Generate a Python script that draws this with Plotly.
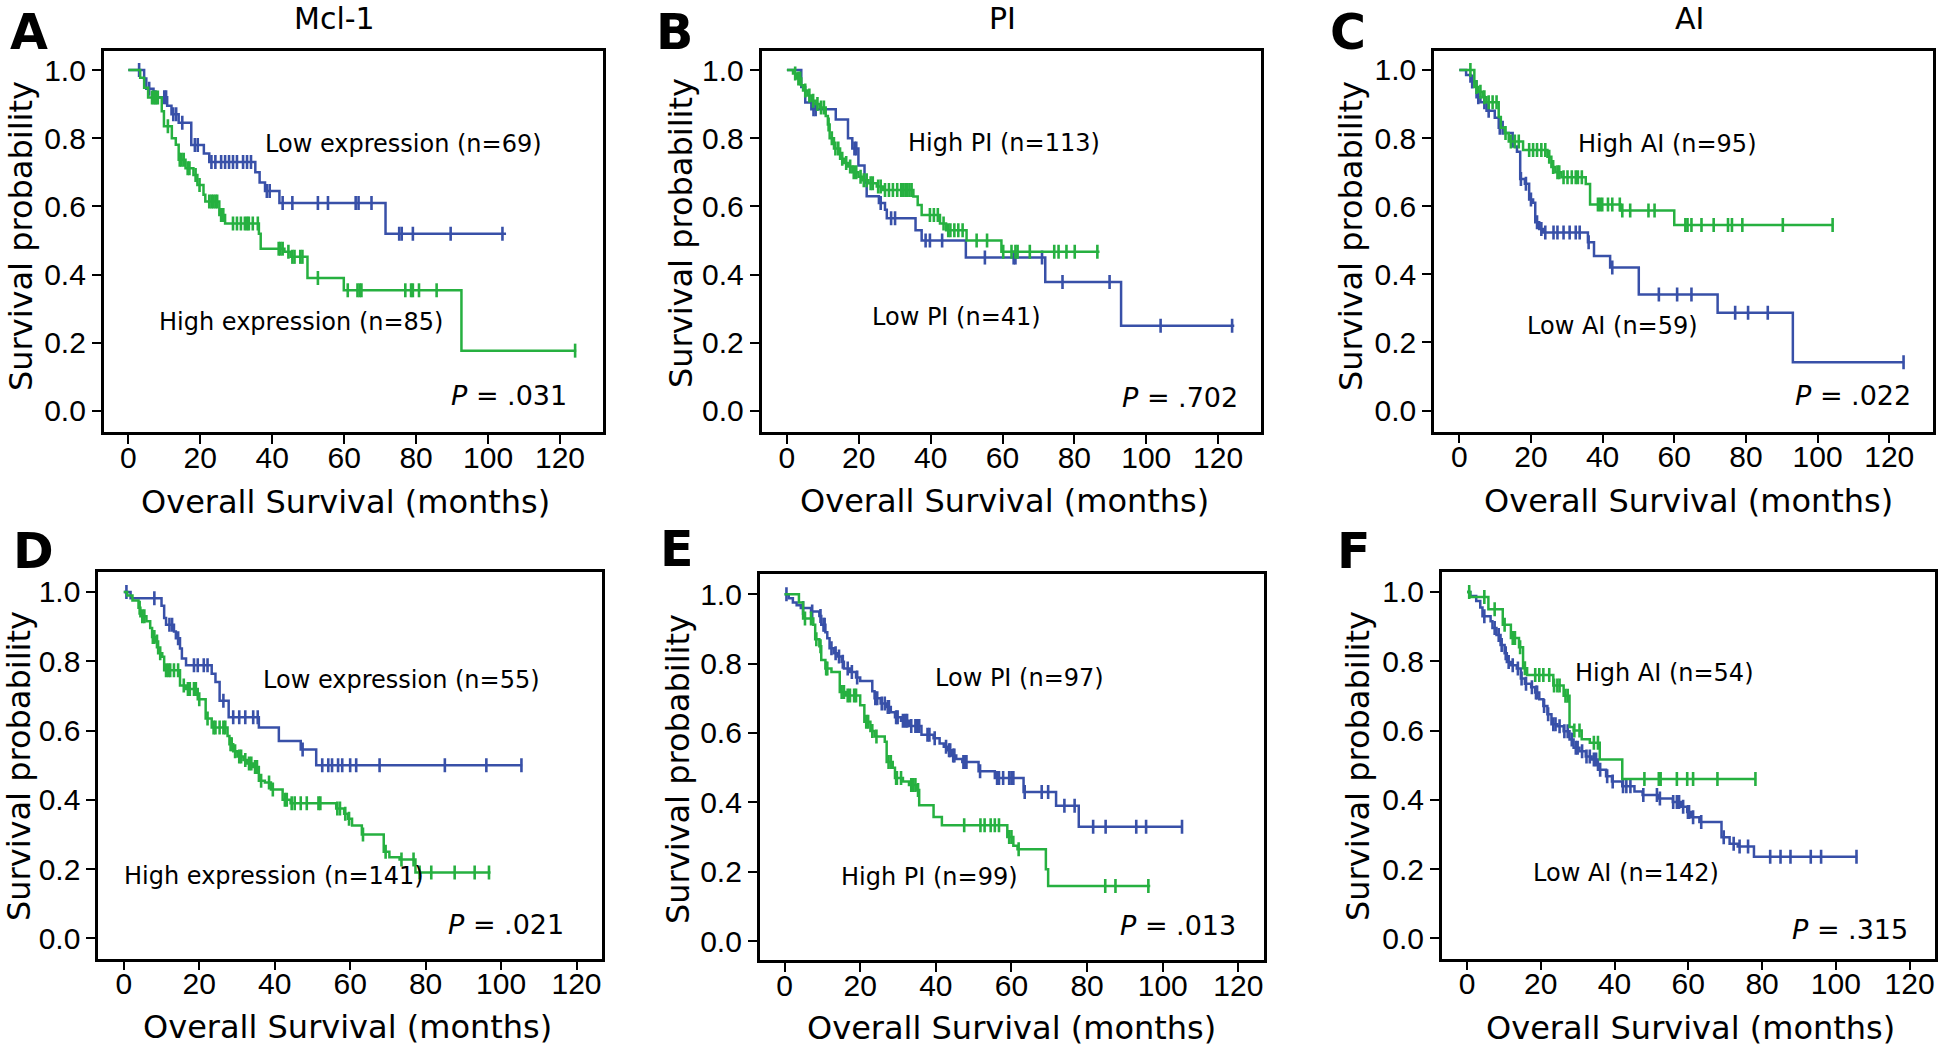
import plotly.graph_objects as go

BLUE = "#3850a8"
GREEN = "#26b040"
TEXT_FONT = "DejaVu Sans, Verdana, sans-serif"
TICK_FONT = "Liberation Sans, Arial, sans-serif"

# ---------------- Panel A : Mcl-1 (top row) ----------------
A_low_t = [0, 4.4, 5.0, 7.0, 10.8, 12.0, 14.0, 17.5, 21.0, 22.5, 35.3, 36.5, 38.0, 42.0, 71.5]
A_low_s = [1.0, 0.975, 0.945, 0.92, 0.895, 0.87, 0.845, 0.78, 0.755, 0.73, 0.70, 0.67, 0.645, 0.61, 0.52]
A_low_end = 105.0
A_low_cens = [3.0, 5.8, 7.5, 10.0, 10.5, 12.5, 13.3, 15.0, 18.5, 19.3, 23.1, 24.2, 25.8, 26.9, 28.0,
              29.1, 30.2, 31.9, 33.0, 34.1, 38.5, 39.3, 42.9, 45.6, 52.7, 55.5, 63.2, 64.0, 67.6,
              75.3, 76.0, 79.1, 89.6, 104.0]
A_high_t = [0, 3.3, 4.4, 5.5, 9.3, 9.9, 12.1, 13.2, 14.0, 15.9, 18.1, 19.2, 20.9, 21.4, 25.3, 26.9,
            36.3, 36.8, 43.4, 45.1, 49.8, 59.9, 92.6]
A_high_s = [1.0, 0.977, 0.948, 0.919, 0.879, 0.835, 0.80, 0.781, 0.737, 0.712, 0.692, 0.663, 0.634,
            0.614, 0.575, 0.55, 0.52, 0.476, 0.467, 0.452, 0.39, 0.354, 0.177]
A_high_end = 124.5
A_high_cens = [6.6, 7.1, 7.7, 8.2, 11.0, 14.3, 14.8, 15.4, 16.5, 17.0, 18.7, 19.8, 22.5, 23.1, 23.6,
               24.2, 24.7, 25.8, 26.4, 29.1, 30.2, 31.3, 32.4, 33.0, 33.5, 34.6, 36.0, 41.8, 42.3,
               42.9, 44.5, 45.6, 46.2, 47.8, 48.4, 52.7, 61.0, 63.7, 64.3, 64.8, 77.0, 78.6, 79.1,
               80.8, 85.7, 124.2]

# ---------------- Panel B : PI (top row) ----------------
B_low_t = [0, 4.0, 5.1, 6.8, 13.6, 17.0, 18.2, 19.9, 21.6, 22.2, 25.6, 27.3, 27.8, 35.8, 37.5, 49.8, 71.9, 93.0]
B_low_s = [1.0, 0.95, 0.905, 0.885, 0.855, 0.80, 0.77, 0.72, 0.67, 0.63, 0.61, 0.59, 0.565, 0.53,
           0.50, 0.45, 0.378, 0.25]
B_low_end = 124.5
B_low_cens = [7.4, 8.0, 18.8, 19.3, 26.1, 29.0, 30.1, 38.6, 39.8, 43.2, 55.1, 63.1, 63.6, 71.0,
              76.7, 89.8, 104.0, 123.9]
B_high_t = [0, 1.7, 2.8, 4.0, 4.5, 5.7, 6.8, 8.0, 9.1, 10.8, 11.4, 11.9, 13.1, 14.8, 15.9, 17.0,
            18.2, 19.9, 21.0, 22.7, 25.0, 26.7, 35.2, 36.4, 37.5, 42.6, 44.3, 50.0, 59.7]
B_high_s = [1.0, 0.99, 0.975, 0.955, 0.94, 0.925, 0.91, 0.90, 0.89, 0.865, 0.84, 0.80, 0.77, 0.74,
            0.727, 0.717, 0.70, 0.687, 0.677, 0.668, 0.658, 0.648, 0.629, 0.604, 0.575, 0.55, 0.53,
            0.50, 0.467]
B_high_end = 87.0
B_high_cens = [2.3, 3.2, 3.7, 5.1, 6.25, 7.3, 8.5, 9.5, 10.3, 11.6, 12.5, 13.5, 14.3, 15.4, 16.5,
               17.6, 18.6, 19.3, 20.5, 21.4, 22.2, 23.3, 23.9, 25.4, 26.1, 27.3, 28.4, 29.5, 30.7,
               31.8, 32.4, 33.0, 33.5, 34.1, 34.7, 39.8, 40.9, 42.0, 43.6, 44.9, 45.5, 46.6, 47.7,
               48.9, 52.8, 55.7, 60.2, 62.5, 63.6, 64.2, 67.6, 74.4, 75.6, 77.8, 80.1, 86.4]

# ---------------- Panel C : AI (top row) ----------------
C_high_t = [0, 4.2, 5.3, 6.5, 7.6, 11.0, 11.6, 12.7, 13.8, 17.8, 24.6, 25.7, 26.8, 28.5, 35.3, 36.5, 45.0, 60.0]
C_high_s = [1.0, 0.95, 0.936, 0.92, 0.905, 0.862, 0.83, 0.815, 0.79, 0.765, 0.745, 0.715, 0.70,
            0.685, 0.665, 0.605, 0.587, 0.545]
C_high_end = 104.4
C_high_cens = [3.1, 4.8, 5.9, 7.0, 8.2, 9.3, 10.4, 12.9, 14.4, 15.5, 16.6, 19.5, 20.6, 21.7, 22.9,
               24.0, 25.1, 26.2, 27.4, 27.9, 29.1, 30.2, 31.4, 32.5, 33.1, 34.2, 38.7, 39.3, 39.9,
               41.5, 42.7, 44.8, 45.5, 47.7, 52.8, 54.5, 63.1, 63.7, 64.8, 67.6, 71.0, 75.0, 76.1,
               79.0, 90.3, 104.2]
C_low_t = [0, 1.9, 3.1, 4.8, 5.9, 7.6, 9.9, 11.0, 12.7, 14.9, 16.1, 17.0, 18.3, 19.5, 20.6, 21.2,
           22.3, 23.4, 35.9, 37.6, 42.1, 50.1, 72.1, 93.1]
C_low_s = [1.0, 0.985, 0.966, 0.92, 0.905, 0.88, 0.86, 0.83, 0.815, 0.775, 0.76, 0.68, 0.666, 0.62,
           0.61, 0.553, 0.533, 0.523, 0.494, 0.454, 0.42, 0.341, 0.287, 0.142]
C_low_end = 124.2
C_low_cens = [3.6, 5.3, 7.0, 8.2, 11.3, 12.1, 17.2, 18.6, 20.0, 21.7, 22.9, 24.0, 26.3, 27.4, 29.1,
              30.8, 32.5, 33.6, 36.1, 42.7, 55.7, 60.8, 64.8, 77.0, 80.6, 86.1, 124.0]

# ---------------- Panel D : Mcl-1 (bottom row) ----------------
D_low_t = [0, 1.8, 10.0, 10.7, 11.2, 13.3, 13.8, 14.9, 15.4, 16.5, 23.3, 24.3, 25.4, 27.8, 35.8,
           41.1, 46.9, 51.0]
D_low_s = [1.0, 0.982, 0.96, 0.925, 0.905, 0.886, 0.866, 0.837, 0.808, 0.788, 0.764, 0.74, 0.686,
           0.638, 0.609, 0.57, 0.545, 0.50]
D_low_end = 105.6
D_low_cens = [0.7, 8.1, 12.1, 12.8, 14.4, 18.6, 19.6, 21.2, 22.2, 26.4, 29.0, 30.6, 32.2, 34.3,
              35.5, 47.4, 52.6, 54.2, 55.2, 56.8, 57.9, 60.0, 61.6, 67.8, 85.1, 96.1, 105.4]
D_high_t = [0, 0.9, 2.3, 3.9, 4.4, 6.0, 7.0, 7.5, 8.6, 9.1, 10.2, 10.7, 14.9, 16.5, 19.6, 21.7,
            23.3, 27.5, 28.0, 29.0, 30.1, 31.7, 32.7, 34.3, 35.8, 37.4, 39.0, 42.1, 44.2, 56.3,
            58.4, 59.4, 60.5, 63.1, 68.9, 70.4, 73.1, 77.3]
D_high_s = [1.0, 0.99, 0.975, 0.954, 0.93, 0.915, 0.896, 0.87, 0.857, 0.823, 0.813, 0.774, 0.73,
            0.72, 0.69, 0.635, 0.609, 0.584, 0.56, 0.54, 0.525, 0.515, 0.505, 0.495, 0.455, 0.45,
            0.43, 0.40, 0.39, 0.375, 0.36, 0.345, 0.326, 0.30, 0.25, 0.234, 0.228, 0.19]
D_high_end = 97.2
D_high_cens = [4.2, 4.9, 5.45, 7.7, 8.1, 8.8, 9.65, 11.2, 11.8, 12.3, 13.3, 14.4, 15.9, 17.0, 17.5,
               18.6, 19.1, 20.0, 22.2, 23.8, 24.3, 25.4, 26.4, 26.9, 28.3, 28.6, 29.5, 30.6, 31.1,
               32.2, 33.2, 33.8, 34.8, 35.3, 36.4, 38.5, 39.5, 42.7, 43.2, 44.5, 45.3, 46.9, 48.5,
               51.6, 52.1, 56.6, 57.3, 58.7, 59.7, 63.4, 69.4, 73.6, 76.8, 78.4, 81.5, 87.7, 93.0, 96.8]

# ---------------- Panel E : PI (bottom row) ----------------
E_low_t = [0, 1.1, 2.2, 3.2, 4.3, 7.0, 9.2, 9.7, 10.8, 11.3, 11.9, 13.0, 14.0, 15.1, 15.7, 17.3,
           18.9, 20.0, 23.2, 23.8, 25.4, 27.0, 28.1, 29.2, 30.8, 32.9, 36.2, 39.4, 41.0, 42.1,
           43.2, 44.3, 45.4, 47.0, 51.3, 55.6, 63.2, 71.8, 77.8]
E_low_s = [1.0, 0.988, 0.976, 0.968, 0.96, 0.95, 0.937, 0.912, 0.89, 0.873, 0.844, 0.83, 0.82,
           0.805, 0.786, 0.776, 0.76, 0.75, 0.72, 0.70, 0.685, 0.675, 0.66, 0.645, 0.635, 0.62,
           0.595, 0.585, 0.57, 0.56, 0.55, 0.535, 0.525, 0.516, 0.49, 0.47, 0.43, 0.39, 0.33]
E_low_end = 105.3
E_low_cens = [0.5, 4.9, 7.3, 9.5, 10.3, 10.6, 12.4, 13.5, 14.4, 15.4, 16.7, 17.8, 19.2, 24.0,
              24.5, 25.7, 26.5, 27.3, 27.6, 29.5, 29.9, 31.3, 31.9, 32.4, 33.5, 34.6, 35.1, 35.6,
              37.8, 38.3, 39.7, 42.7, 43.5, 43.8, 44.6, 44.9, 47.3, 47.7, 48.1, 51.7, 56.2, 56.7,
              57.8, 59.4, 60.0, 60.5, 63.5, 68.0, 69.7, 74.0, 76.7, 81.6, 84.9, 93.0, 95.6, 105.1]
E_high_t = [0, 3.8, 4.9, 7.6, 8.1, 9.2, 9.7, 10.8, 12.4, 14.6, 16.2, 20.0, 21.1, 22.7, 23.8, 26.5,
            27.0, 28.6, 29.2, 31.3, 32.9, 35.1, 35.6, 39.4, 41.6, 58.9, 60.5, 61.6, 69.1, 69.7]
E_high_s = [1.0, 0.976, 0.93, 0.912, 0.87, 0.85, 0.81, 0.786, 0.776, 0.718, 0.708, 0.68, 0.632,
            0.606, 0.59, 0.575, 0.516, 0.50, 0.47, 0.46, 0.45, 0.436, 0.392, 0.358, 0.334, 0.30,
            0.275, 0.265, 0.207, 0.159]
E_high_end = 96.7
E_high_cens = [5.4, 7.0, 8.4, 9.5, 11.0, 11.3, 15.1, 15.7, 16.7, 17.3, 18.4, 18.9, 21.6, 22.1,
               23.2, 24.3, 27.5, 28.1, 29.5, 29.7, 30.8, 33.5, 34.0, 34.6, 35.3, 47.5, 51.8, 52.9,
               54.5, 55.6, 56.7, 59.4, 60.0, 61.9, 84.8, 87.5, 96.2]

# ---------------- Panel F : AI (bottom row) ----------------
F_high_t = [0, 0.9, 5.8, 9.7, 11.9, 14.1, 15.2, 16.3, 23.4, 26.2, 27.8, 28.9, 31.1, 33.3, 36.0, 42.1]
F_high_s = [1.0, 0.985, 0.95, 0.905, 0.867, 0.84, 0.78, 0.76, 0.73, 0.70, 0.61, 0.60, 0.575,
            0.565, 0.516, 0.46]
F_high_end = 78.4
F_high_cens = [0.6, 4.7, 7.5, 10.2, 12.4, 13.0, 14.4, 15.7, 18.5, 19.6, 20.7, 22.3, 23.6, 24.5,
               25.1, 26.7, 27.3, 29.1, 30.5, 34.4, 35.5, 48.1, 52.0, 52.5, 56.9, 59.7, 61.3, 67.9, 78.2]
F_low_t = [0, 0.9, 2.5, 3.6, 4.2, 6.4, 6.9, 8.0, 9.1, 10.2, 10.8, 11.9, 13.5, 14.6, 15.7, 17.4,
           18.5, 19.6, 20.7, 21.8, 22.9, 24.5, 26.2, 27.8, 28.9, 30.5, 32.2, 33.8, 35.5, 37.7,
           39.3, 42.1, 45.4, 47.6, 52.0, 55.8, 58.0, 59.7, 60.8, 63.0, 69.0, 71.2, 73.4, 77.8]
F_low_s = [1.0, 0.988, 0.974, 0.955, 0.93, 0.915, 0.896, 0.876, 0.847, 0.823, 0.798, 0.788,
           0.779, 0.75, 0.735, 0.725, 0.71, 0.69, 0.671, 0.647, 0.618, 0.612, 0.598, 0.574,
           0.55, 0.54, 0.525, 0.516, 0.487, 0.468, 0.453, 0.439, 0.424, 0.414, 0.404, 0.394,
           0.38, 0.365, 0.35, 0.336, 0.292, 0.273, 0.265, 0.236]
F_low_end = 105.8
F_low_cens = [4.7, 7.5, 8.6, 9.4, 10.5, 11.3, 12.4, 13.8, 14.8, 16.0, 17.6, 18.7, 19.0, 20.9, 22.0,
              23.4, 24.0, 25.1, 26.4, 27.3, 28.4, 29.5, 30.0, 31.2, 32.4, 33.3, 34.4, 35.0, 36.1,
              38.0, 39.5, 42.3, 43.2, 44.3, 47.8, 51.5, 52.3, 55.9, 56.9, 57.5, 58.6, 59.9, 60.2,
              61.3, 63.5, 69.6, 72.3, 73.9, 76.2, 82.2, 85.0, 87.7, 93.2, 96.0, 105.6]

X_TICKS = [0, 20, 40, 60, 80, 100, 120]
Y_TICKS = [0.0, 0.2, 0.4, 0.6, 0.8, 1.0]

W, H = 1946, 1049


def px(x):
    return x / W


def py(y):
    return 1 - y / H


def surv_at(t, ts, ss):
    v = ss[0]
    for ti, si in zip(ts, ss):
        if ti <= t:
            v = si
    return v


panels = [
    dict(n=1, curves=[(A_low_t, A_low_s, A_low_end, A_low_cens, BLUE),
                      (A_high_t, A_high_s, A_high_end, A_high_cens, GREEN)],
         labels=[("Low expression (n=69)", 76.4, 0.784), ("High expression (n=85)", 48.0, 0.26)],
         p=(".031", 122.5, 0.046), box=(103.6, 50.7, 603.0, 432.0),
         xr=[-6.87, 131.95], yr=[-0.0616, 1.0566],
         letter=("A", 29, 32), title=("Mcl-1", 334, 18), ytitle=(21, 236), xtitle=(345.5, 502)),
    dict(n=2, curves=[(B_low_t, B_low_s, B_low_end, B_low_cens, BLUE),
                      (B_high_t, B_high_s, B_high_end, B_high_cens, GREEN)],
         labels=[("High PI (n=113)", 60.5, 0.786), ("Low PI (n=41)", 47.2, 0.275)],
         p=(".702", 126.1, 0.041), box=(761.5, 50.7, 1260.5, 432.0),
         xr=[-7.07, 131.8], yr=[-0.0616, 1.0566],
         letter=("B", 674, 32), title=("PI", 1002, 18), ytitle=(681, 233), xtitle=(1004, 501)),
    dict(n=3, curves=[(C_low_t, C_low_s, C_low_end, C_low_cens, BLUE),
                      (C_high_t, C_high_s, C_high_end, C_high_cens, GREEN)],
         labels=[("High AI (n=95)", 58.0, 0.784), ("Low AI (n=59)", 42.7, 0.248)],
         p=(".022", 126.7, 0.043), box=(1434.0, 50.7, 1933.3, 431.5),
         xr=[-7.06, 132.3], yr=[-0.0616, 1.0566],
         letter=("C", 1347.5, 32), title=("AI", 1689, 18), ytitle=(1351, 236), xtitle=(1688, 501)),
    dict(n=4, curves=[(D_low_t, D_low_s, D_low_end, D_low_cens, BLUE),
                      (D_high_t, D_high_s, D_high_end, D_high_cens, GREEN)],
         labels=[("Low expression (n=55)", 73.7, 0.745), ("High expression (n=141)", 39.8, 0.18)],
         p=(".021", 117.1, 0.041), box=(98.1, 572.3, 601.8, 958.6),
         xr=[-6.81, 126.7], yr=[-0.0583, 1.0566],
         letter=("D", 33.6, 551), title=None, ytitle=(19, 766), xtitle=(347, 1027)),
    dict(n=5, curves=[(E_low_t, E_low_s, E_low_end, E_low_cens, BLUE),
                      (E_high_t, E_high_s, E_high_end, E_high_cens, GREEN)],
         labels=[("Low PI (n=97)", 62.0, 0.759), ("High PI (n=99)", 38.4, 0.185)],
         p=(".013", 119.9, 0.044), box=(759.6, 574.0, 1263.7, 960.3),
         xr=[-6.6, 126.7], yr=[-0.055, 1.058],
         letter=("E", 676.7, 549), title=None, ytitle=(678, 769), xtitle=(1011.5, 1028)),
    dict(n=6, curves=[(F_low_t, F_low_s, F_low_end, F_low_cens, BLUE),
                      (F_high_t, F_high_s, F_high_end, F_high_cens, GREEN)],
         labels=[("High AI (n=54)", 53.6, 0.767), ("Low AI (n=142)", 43.2, 0.19)],
         p=(".315", 120.1, 0.026), box=(1441.8, 572.3, 1934.7, 958.6),
         xr=[-6.83, 126.8], yr=[-0.0583, 1.0566],
         letter=("F", 1353.6, 551), title=None, ytitle=(1358, 766), xtitle=(1690, 1028)),
]

fig = go.Figure()
annotations = []
layout = {}

for pnl in panels:
    n = pnl["n"]
    sx = "" if n == 1 else str(n)
    xa, ya = "x" + sx, "y" + sx
    for ts, ss, end, cens, col in pnl["curves"]:
        fig.add_trace(go.Scatter(
            x=list(ts) + [end], y=list(ss) + [ss[-1]], mode="lines",
            line=dict(color=col, width=2.5, shape="hv"),
            xaxis=xa, yaxis=ya, showlegend=False, hoverinfo="skip"))
        fig.add_trace(go.Scatter(
            x=cens, y=[surv_at(c, ts, ss) for c in cens], mode="markers",
            marker=dict(symbol="line-ns", size=10, line=dict(color=col, width=2.6)),
            xaxis=xa, yaxis=ya, showlegend=False, hoverinfo="skip"))
    l, t, r, b = pnl["box"]
    common = dict(showline=True, mirror=True, linecolor="black", linewidth=2.5,
                  ticks="outside", ticklen=9, tickwidth=2, tickcolor="black",
                  showgrid=False, zeroline=False,
                  tickfont=dict(family=TICK_FONT, size=30, color="black"))
    layout["xaxis" + sx] = dict(domain=[px(l), px(r)], range=pnl["xr"], tickvals=X_TICKS,
                                anchor=ya, ticklabelstandoff=-12, **common)
    layout["yaxis" + sx] = dict(domain=[py(b), py(t)], range=pnl["yr"], tickvals=Y_TICKS,
                                tickformat=".1f", anchor=xa, **common)
    for txt, x, y in pnl["labels"]:
        annotations.append(dict(text=txt, x=x, y=y, xref=xa, yref=ya, showarrow=False,
                                xanchor="center", yanchor="middle",
                                font=dict(family=TEXT_FONT, size=24, color="black")))
    ptxt, x, y = pnl["p"]
    annotations.append(dict(text="<i>P</i> = " + ptxt, x=x, y=y, xref=xa, yref=ya, showarrow=False,
                            xanchor="right", yanchor="middle",
                            font=dict(family=TEXT_FONT, size=27, color="black")))
    lt, lx, ly = pnl["letter"]
    annotations.append(dict(text="<b>" + lt + "</b>", x=px(lx), y=py(ly), xref="paper", yref="paper",
                            showarrow=False, xanchor="center", yanchor="middle",
                            font=dict(family=TEXT_FONT, size=49, color="black")))
    if pnl["title"]:
        tt, tx, ty = pnl["title"]
        annotations.append(dict(text=tt, x=px(tx), y=py(ty), xref="paper", yref="paper",
                                showarrow=False, xanchor="center", yanchor="middle",
                                font=dict(family=TEXT_FONT, size=30, color="black")))
    yx, yy = pnl["ytitle"]
    annotations.append(dict(text="Survival probability", x=px(yx), y=py(yy), xref="paper",
                            yref="paper", showarrow=False, textangle=-90,
                            xanchor="center", yanchor="middle",
                            font=dict(family=TEXT_FONT, size=32, color="black")))
    xx, xy = pnl["xtitle"]
    annotations.append(dict(text="Overall Survival (months)", x=px(xx), y=py(xy), xref="paper",
                            yref="paper", showarrow=False, xanchor="center", yanchor="middle",
                            font=dict(family=TEXT_FONT, size=32, color="black")))

fig.update_layout(width=W, height=H, margin=dict(l=0, r=0, t=0, b=0),
                  paper_bgcolor="white", plot_bgcolor="white",
                  annotations=annotations, **layout)

fig.write_html("out.html", config={"displayModeBar": False},
               post_script="document.body.style.margin='0';")
